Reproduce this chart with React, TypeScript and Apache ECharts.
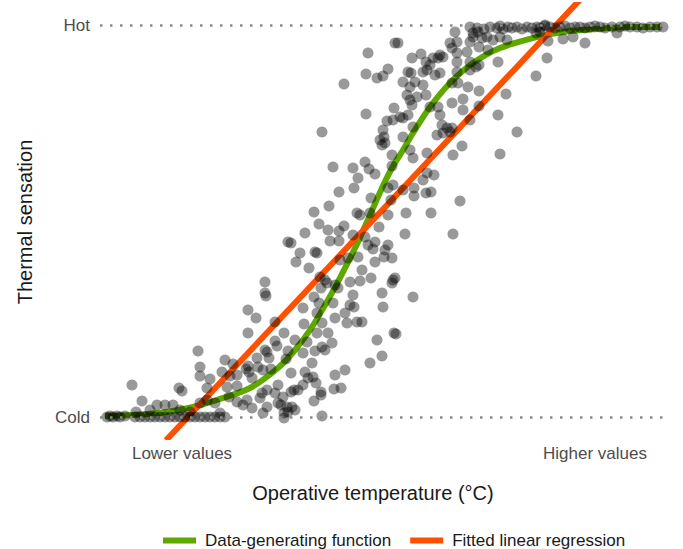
import React, { useEffect, useRef } from "react";
import * as echarts from "echarts";

// x: operative temperature (arbitrary units), y: thermal sensation (Cold = 0, Hot = 392)
const xTickValues = [82, 495];
const xTickLabels = ["Lower values", "Higher values"];
const yTickValues = [0, 392];
const yTickLabels = ["Cold", "Hot"];

const observations: number[][] = [
  // cold end
  [7, 0], [10, 1], [13, 0], [17, 1], [20, 0], [25, 1], [35, 0], [40, 0], [45, 0], [50, 0], [55, 0], [60, 0],
  [65, 0], [70, 0], [75, 0], [80, 0], [85, 0], [90, 0], [95, 0], [100, 0], [105, 0], [110, 0], [115, 0],
  [120, 0], [125, 0], [36, 5], [50, 7], [80, 7], [90, 5], [120, 4],
  [32, 32], [42, 16], [98, 66], [100, 50], [100, 41], [110, 38], [79, 29], [82, 26], [107, 29], [125, 57],
  [133, 53], [122, 45], [130, 41], [137, 42], [148, 107], [148, 84], [146, 48], [127, 30], [137, 31],
  [100, 14], [107, 17], [115, 14], [57, 12], [65, 12], [73, 12], [129, 20], [137, 15], [143, 12], [147, 17],
  // lower middle
  [166, 121], [156, 99], [175, 95], [184, 84], [175, 76], [177, 71], [167, 65], [157, 59], [169, 59],
  [188, 66], [186, 58], [195, 77], [203, 109], [204, 93], [214, 120], [219, 114], [217, 104], [222, 94],
  [217, 84], [228, 84], [232, 74], [225, 67], [222, 70], [215, 66], [207, 75], [203, 64], [212, 54],
  [205, 45], [208, 39], [213, 40], [216, 34], [221, 25], [221, 22], [214, 16], [203, 32], [198, 27],
  [191, 44], [194, 27], [178, 32], [191, 25], [183, 20], [181, 12], [187, 10], [188, 5], [184, 4],
  [192, 10], [195, 7], [184, -1], [178, 14], [175, 24], [167, 27], [162, 24], [160, 19], [167, 10],
  [163, 4], [152, 9], [152, 39], [149, 45], [158, 50], [163, 47], [171, 48], [148, 51], [165, 67],
  [233, 114], [235, 99], [245, 104], [247, 94], [253, 122], [250, 112], [254, 110], [257, 95], [262, 95],
  [235, 42], [245, 47], [234, 28], [241, 29], [222, 1], [270, 54], [282, 61], [277, 77], [282, 124],
  [283, 110], [294, 84], [313, 120], [296, 83],
  // middle
  [282, 272], [292, 262], [233, 250], [253, 249], [265, 255], [269, 248], [275, 243], [258, 239],
  [254, 229], [239, 225], [292, 251], [288, 229], [271, 219], [229, 211], [214, 205], [257, 204],
  [260, 202], [270, 204], [288, 202], [291, 217], [219, 193], [228, 187], [239, 186], [244, 191],
  [205, 184], [279, 190], [230, 176], [239, 176], [253, 182], [265, 180], [275, 175], [268, 172],
  [273, 168], [285, 167], [288, 172], [188, 175], [191, 174], [200, 164], [215, 165], [217, 164],
  [196, 155], [209, 149], [240, 157], [248, 159], [258, 160], [275, 155], [284, 160], [292, 159],
  [262, 147], [271, 139], [260, 136], [250, 135], [220, 140], [225, 137], [227, 134], [221, 129],
  [235, 132], [238, 129], [165, 135], [165, 124], [292, 134], [293, 137],
  [310, 267], [313, 259], [327, 264], [353, 262], [362, 271], [400, 263], [327, 244], [334, 242],
  [323, 237], [293, 232], [303, 227], [314, 229], [314, 221], [326, 224], [331, 225], [360, 216],
  [306, 204], [331, 204], [305, 183], [353, 183], [295, 139],
  // upper middle
  [268, 364], [295, 374], [288, 348], [266, 343], [277, 339], [283, 341], [244, 333], [266, 303],
  [294, 309], [287, 296], [283, 287], [222, 285], [280, 277], [285, 274], [284, 280],
  [355, 385], [373, 384], [378, 385], [298, 374], [357, 375], [350, 374], [370, 375], [373, 380],
  [382, 379], [387, 380], [393, 377], [400, 380], [407, 377], [367, 365], [379, 370], [388, 367],
  [352, 369], [357, 364], [340, 362], [343, 360], [321, 363], [312, 359], [326, 355], [330, 352],
  [333, 359], [338, 359], [357, 355], [370, 355], [376, 350], [398, 355], [308, 345], [311, 344],
  [323, 345], [327, 347], [335, 342], [340, 344], [357, 345], [370, 347], [379, 352], [436, 341],
  [303, 335], [315, 335], [310, 330], [323, 332], [352, 334], [358, 334], [368, 330], [379, 326],
  [406, 323], [307, 322], [310, 317], [312, 312], [317, 320], [326, 322], [352, 314], [363, 318],
  [379, 311], [300, 300], [303, 299], [293, 297], [308, 302], [330, 310], [338, 310], [340, 302],
  [363, 307], [370, 297], [398, 302], [313, 290], [303, 280], [342, 292], [347, 289], [350, 285],
  [343, 284], [352, 289], [337, 282], [417, 285],
  // hot end
  [370, 390], [377, 389], [384, 388], [390, 390], [397, 389], [400, 391], [403, 388], [408, 390],
  [412, 389], [417, 390], [422, 388], [427, 390], [432, 389], [437, 390], [440, 389], [445, 391],
  [450, 390], [455, 389], [460, 390], [465, 391], [470, 389], [475, 390], [480, 390], [485, 389],
  [490, 390], [495, 391], [500, 390], [505, 389], [512, 390], [520, 390], [525, 391], [530, 390],
  [537, 390], [543, 389], [550, 390], [557, 390], [563, 390],
  [445, 392], [436, 384], [440, 385], [448, 376], [463, 378], [473, 380], [485, 374], [517, 384],
  [447, 359],
];

const generatingCurve: number[][] = [
  [5, 1], [33, 2], [67, 5], [93, 10], [117, 17], [150, 29], [178, 49], [195, 67], [212, 90],
  [233, 126], [245, 149], [258, 175], [270, 202], [282, 229], [292, 249], [303, 267],
  [313, 284], [330, 310], [350, 334], [373, 354], [400, 369], [437, 380], [463, 385],
  [497, 388], [530, 390], [560, 390],
];

const regressionLine: number[][] = [
  [66, -23.3],
  [480, 417.3],
];

const FONT = "'Liberation Sans', Arial, sans-serif";

export default function App() {
  const ref = useRef<HTMLDivElement>(null);

  useEffect(() => {
    if (!ref.current) return;
    const chart = echarts.init(ref.current, null, { renderer: "svg" });
    chart.setOption({
      animation: false,
      backgroundColor: "#ffffff",
      textStyle: { fontFamily: FONT },
      grid: { left: 100, right: 16, top: 5, bottom: 112, containLabel: false },
      xAxis: {
        type: "value",
        min: 0,
        max: 567,
        axisLine: { show: false },
        axisTick: { show: false },
        splitLine: { show: false },
        axisLabel: {
          customValues: xTickValues,
          formatter: (v: number) => {
            const i = xTickValues.indexOf(v);
            return i >= 0 ? xTickLabels[i] : "";
          },
          fontSize: 17,
          color: "#4d4d4d",
          fontFamily: FONT,
          margin: 8,
        },
      },
      yAxis: {
        type: "value",
        min: -20,
        max: 412,
        axisLine: { show: false },
        axisTick: { show: false },
        splitLine: { show: false },
        axisLabel: {
          customValues: yTickValues,
          formatter: (v: number) => {
            const i = yTickValues.indexOf(v);
            return i >= 0 ? yTickLabels[i] : "";
          },
          fontSize: 17,
          color: "#4d4d4d",
          fontFamily: FONT,
          margin: 10,
        },
      },
      legend: {
        data: ["Data-generating function", "Fitted linear regression"],
        left: 158,
        top: 527,
        icon: "rect",
        itemWidth: 33,
        itemHeight: 6,
        itemGap: 19,
        textStyle: { fontSize: 17, color: "#1a1a1a", fontFamily: FONT, padding: [0, 0, 0, 4] },
      },
      graphic: [
        {
          type: "text",
          x: 373,
          y: 493,
          style: {
            text: "Operative temperature (°C)",
            align: "center",
            verticalAlign: "middle",
            font: `20px ${FONT}`,
            fill: "#1a1a1a",
          },
        },
        {
          type: "text",
          x: 25,
          y: 222,
          rotation: Math.PI / 2,
          style: {
            text: "Thermal sensation",
            align: "center",
            verticalAlign: "middle",
            font: `20px ${FONT}`,
            fill: "#1a1a1a",
          },
        },
      ],
      series: [
        {
          name: "Data-generating function",
          type: "line",
          data: generatingCurve,
          smooth: 0.3,
          showSymbol: false,
          symbol: "none",
          lineStyle: { color: "#5ea800", width: 6 },
          itemStyle: { color: "#5ea800" },
          z: 2,
          markLine: {
            silent: true,
            symbol: ["none", "none"],
            label: { show: false },
            lineStyle: { color: "#8a8a8a", width: 2.5, type: [2.5, 7.5] },
            data: yTickValues.map((v) => ({ yAxis: v })),
          },
        },
        {
          name: "Fitted linear regression",
          type: "line",
          data: regressionLine,
          showSymbol: false,
          symbol: "none",
          lineStyle: { color: "#ff5000", width: 6 },
          itemStyle: { color: "#ff5000" },
          z: 2,
        },
        {
          name: "Observations",
          type: "scatter",
          data: observations,
          symbolSize: 11,
          itemStyle: { color: "rgba(0,0,0,0.5)" },
          z: 3,
        },
      ],
    });
    return () => chart.dispose();
  }, []);

  return (
    <div
      ref={ref}
      style={{ position: "fixed", left: 0, top: 0, width: 683, height: 549, background: "#fff" }}
    />
  );
}
